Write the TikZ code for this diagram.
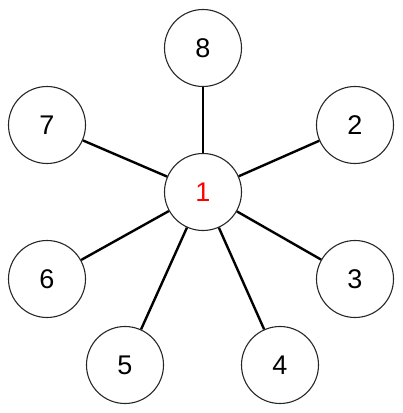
\documentclass[tikz,border=0pt]{standalone}
\usepackage{fontspec}
\setmainfont{Liberation Sans}
\begin{document}
\begin{tikzpicture}[x=1pt,y=-1pt,
  vtx/.style={circle,draw=black!85,line width=1.1pt,minimum size=77pt,inner sep=0pt,font=\fontsize{27}{27}\selectfont,fill=white},
  edge/.style={line width=2.4pt,black}]
\useasboundingbox (0,0) rectangle (403,413);
\node[vtx,text=red] (n1) at (203,192) {1};
\node[vtx] (n8) at (203,48) {8};
\node[vtx] (n7) at (47,125) {7};
\node[vtx] (n2) at (355,125) {2};
\node[vtx] (n6) at (47,279) {6};
\node[vtx] (n3) at (355,279) {3};
\node[vtx] (n5) at (125,365) {5};
\node[vtx] (n4) at (280,365) {4};
\foreach \t in {n8,n7,n2,n6,n3,n5,n4}
  \draw[edge] (n1) -- (\t);
\end{tikzpicture}
\end{document}
